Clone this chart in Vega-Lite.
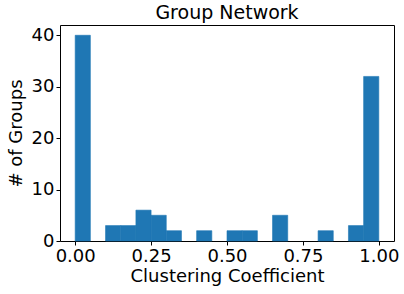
{
  "$schema": "https://vega.github.io/schema/vega-lite/v6.json",
  "width": 334,
  "height": 216,
  "autosize": {"type": "none"},
  "padding": {"left": 60, "top": 25, "right": 10, "bottom": 53},
  "background": "white",
  "title": {"text": "Group Network", "font": "DejaVu Sans", "fontSize": 19, "fontWeight": "normal", "color": "black", "offset": 2},
  "config": {
    "view": {"stroke": "black", "strokeWidth": 1},
    "axis": {"grid": false, "domain": false, "labelFont": "DejaVu Sans", "labelFontSize": 18, "labelColor": "black", "titleFont": "DejaVu Sans", "titleFontSize": 18, "titleFontWeight": "normal", "titleColor": "black", "tickColor": "black", "tickSize": 4, "labelPadding": 2}
  },
  "data": {"values": [
    {"start": 0.00, "end": 0.05, "count": 40},
    {"start": 0.10, "end": 0.15, "count": 3},
    {"start": 0.15, "end": 0.20, "count": 3},
    {"start": 0.20, "end": 0.25, "count": 6},
    {"start": 0.25, "end": 0.30, "count": 5},
    {"start": 0.30, "end": 0.35, "count": 2},
    {"start": 0.40, "end": 0.45, "count": 2},
    {"start": 0.50, "end": 0.55, "count": 2},
    {"start": 0.55, "end": 0.60, "count": 2},
    {"start": 0.65, "end": 0.70, "count": 5},
    {"start": 0.80, "end": 0.85, "count": 2},
    {"start": 0.90, "end": 0.95, "count": 3},
    {"start": 0.95, "end": 1.00, "count": 32}
  ]},
  "mark": {"type": "bar", "color": "#1f77b4", "stroke": "#1f77b4", "strokeWidth": 0.6},
  "encoding": {
    "x": {"field": "start", "type": "quantitative", "scale": {"domain": [-0.05, 1.05], "nice": false, "zero": false}, "axis": {"values": [0, 0.25, 0.5, 0.75, 1.0], "format": ".2f", "title": "Clustering Coefficient", "titlePadding": 2}},
    "x2": {"field": "end"},
    "y": {"field": "count", "type": "quantitative", "scale": {"domain": [0, 42], "nice": false}, "axis": {"values": [0, 10, 20, 30, 40], "title": "# of Groups", "titlePadding": 6}},
    "y2": {"datum": 0}
  }
}
